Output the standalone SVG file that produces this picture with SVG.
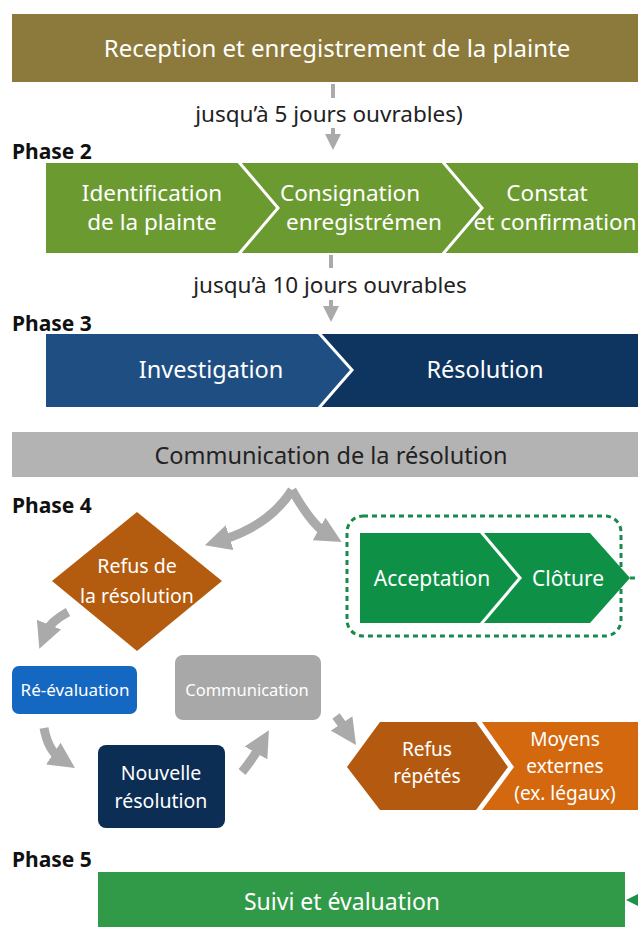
<svg xmlns="http://www.w3.org/2000/svg" width="638" height="927" viewBox="0 0 638 927">
<defs>
<style>
text{font-family:"Noto Sans","Open Sans","DejaVu Sans",sans-serif;}
.w{fill:#fff;text-anchor:middle;}
.ph{font-weight:bold;font-size:21px;fill:#111;}
.lbl{font-size:22.5px;fill:#222;text-anchor:middle;}
.gl{stroke:#aaa;stroke-width:4;fill:none;}
.ga{stroke:#aaa;stroke-width:9;fill:none;}
.sep{stroke:#fff;stroke-width:3;fill:none;}
</style>
<marker id="ah" markerUnits="userSpaceOnUse" markerWidth="26" markerHeight="26" refX="8" refY="13" orient="auto">
<path d="M0,0 L26,13 L0,26 z" fill="#aaa"/>
</marker>
<marker id="ahs" markerUnits="userSpaceOnUse" markerWidth="16" markerHeight="16" refX="8" refY="8" orient="auto">
<path d="M0,0 L16,8 L0,16 z" fill="#aaa"/>
</marker>
<marker id="agr" markerUnits="userSpaceOnUse" markerWidth="14" markerHeight="14" refX="10" refY="7" orient="auto">
<path d="M0,0 L14,7 L0,14 z" fill="#1a9448"/>
</marker>
</defs>

<g id="phase1">
<rect x="12" y="14" width="626" height="68" fill="#8b7a3b"/>
<text class="w" x="337" y="57" font-size="24">Reception et enregistrement de la plainte</text>
</g>

<text class="ph" x="12" y="159">Phase 2</text>
<g id="phase2">
<rect x="46" y="163" width="592" height="90" fill="#6b9a31"/>
<path class="sep" d="M238,161 L278,208 L238,255"/>
<path class="sep" d="M442,161 L482,208 L442,255"/>
<text class="w" x="152" y="201" font-size="22.5">Identification</text>
<text class="w" x="152" y="230" font-size="22.5">de la plainte</text>
<text class="w" x="350" y="201" font-size="22.5">Consignation</text>
<text class="w" x="364" y="230" font-size="22.5">enregistrémen</text>
<text class="w" x="547" y="201" font-size="22.5">Constat</text>
<text class="w" x="555" y="230" font-size="22.5">et confirmation</text>
</g>

<text class="ph" x="12" y="331">Phase 3</text>
<g id="phase3">
<rect x="46" y="334" width="592" height="73" fill="#1f4f82"/>
<path d="M318,334 L638,334 L638,407 L318,407 L352,370 z" fill="#0e3560"/>
<path class="sep" d="M318,332 L352,370 L318,409"/>
<text class="w" x="211" y="378" font-size="23.5">Investigation</text>
<text class="w" x="485" y="378" font-size="23.5">Résolution</text>
</g>

<g id="communication-resolution">
<rect x="12" y="432" width="626" height="45" fill="#b3b3b3"/>
<text x="331" y="464" font-size="23.5" fill="#222" text-anchor="middle">Communication de la résolution</text>
</g>

<text class="ph" x="12" y="513">Phase 4</text>

<g id="refus-resolution">
<path d="M137,512 L222,581 L137,651 L52,581 z" fill="#b35c10"/>
<text class="w" x="137" y="573" font-size="19.5">Refus de</text>
<text class="w" x="137" y="603" font-size="19.5">la résolution</text>
</g>

<g id="acceptation-cloture">
<rect x="347" y="516" width="274" height="120" rx="16" fill="none" stroke="#1a8a4c" stroke-width="3" stroke-dasharray="5,4"/>
<path d="M360,533 L480,533 L518,578 L480,623 L360,623 z" fill="#0e9146"/>
<path d="M484,533 L590,533 L630,578 L590,623 L484,623 L522,578 z" fill="#0e9146"/>
<text class="w" x="432" y="586" font-size="21">Acceptation</text>
<text class="w" x="568" y="586" font-size="21">Clôture</text>
</g>

<g id="reevaluation">
<rect x="12" y="666" width="125" height="48" rx="7" fill="#1468c2"/>
<text class="w" x="75" y="696" font-size="17">Ré-évaluation</text>
</g>

<g id="communication">
<rect x="175" y="655" width="146" height="65" rx="8" fill="#a8a8a8"/>
<text class="w" x="247" y="696" font-size="16.5">Communication</text>
</g>

<g id="nouvelle-resolution">
<rect x="98" y="745" width="127" height="83" rx="8" fill="#0c2e55"/>
<text class="w" x="161" y="780" font-size="19.5">Nouvelle</text>
<text class="w" x="161" y="808" font-size="19.5">résolution</text>
</g>

<g id="refus-repetes">
<path d="M347,767 L380,722 L476,722 L508,767 L476,810 L380,810 z" fill="#b35a10"/>
<text class="w" x="427" y="756" font-size="19">Refus</text>
<text class="w" x="427" y="783" font-size="19">répétés</text>
</g>

<g id="moyens-externes">
<path d="M482,722 L638,722 L638,810 L482,810 L514,767 z" fill="#d4680f"/>
<text class="w" x="565" y="746" font-size="19">Moyens</text>
<text class="w" x="565" y="773" font-size="19">externes</text>
<text class="w" x="565" y="800" font-size="19">(ex. légaux)</text>
</g>

<text class="ph" x="12" y="867">Phase 5</text>
<g id="suivi">
<rect x="98" y="872" width="527" height="55" fill="#319a48"/>
<text class="w" x="342" y="910" font-size="23">Suivi et évaluation</text>
</g>

<g id="connectors">
<line class="gl" x1="333" y1="84" x2="333" y2="98"/>
<text class="lbl" x="329" y="122">jusqu’à 5 jours ouvrables)</text>
<line class="gl" x1="333" y1="128" x2="333" y2="142" marker-end="url(#ahs)"/>
<line class="gl" x1="331" y1="255" x2="331" y2="268"/>
<text class="lbl" x="330" y="293">jusqu’à 10 jours ouvrables</text>
<line class="gl" x1="331" y1="300" x2="331" y2="314" marker-end="url(#ahs)"/>
<path class="ga" d="M292,490 Q270,525 222,540" marker-end="url(#ah)"/>
<path class="ga" d="M292,490 Q312,525 326,533" marker-end="url(#ah)"/>
<path class="ga" d="M68,612 Q50,622 46,632" marker-end="url(#ah)"/>
<path class="ga" d="M44,728 Q48,750 60,758" marker-end="url(#ah)"/>
<path class="ga" d="M242,772 Q252,760 260,746" marker-end="url(#ah)"/>
<path class="ga" d="M336,716 Q342,724 346,730" marker-end="url(#ah)"/>
<path d="M630,578 L646,578 L646,900 L630,900" fill="none" stroke="#1a9448" stroke-width="3" stroke-dasharray="5,4" marker-end="url(#agr)"/>
</g>
</svg>
